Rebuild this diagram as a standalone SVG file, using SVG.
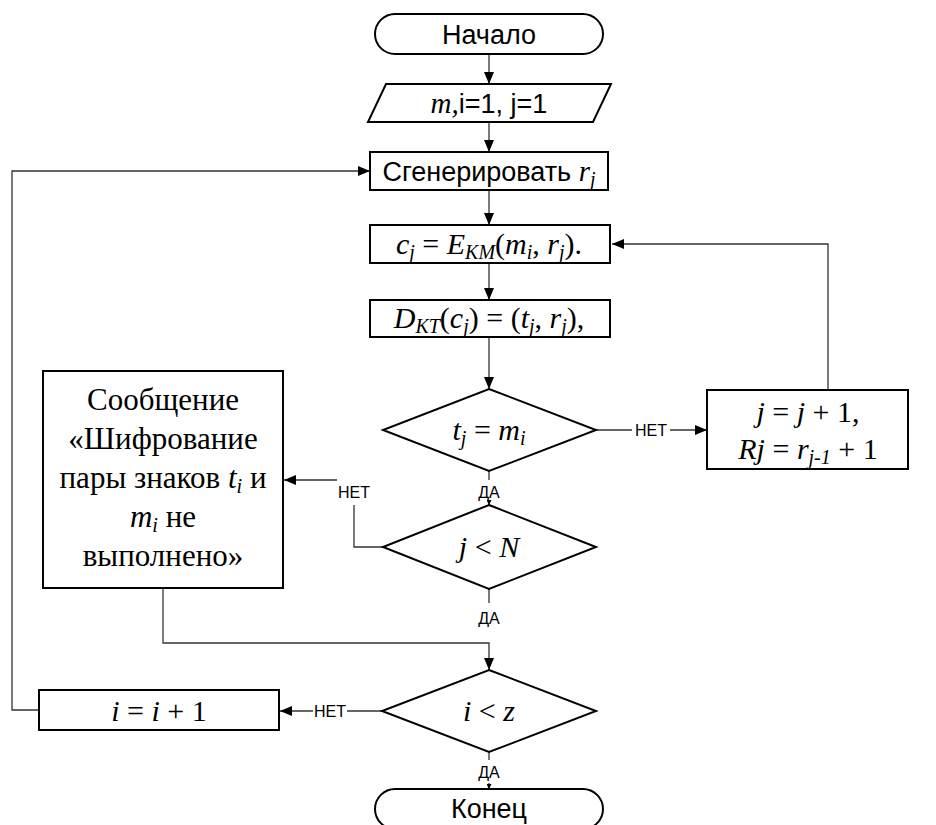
<svg xmlns="http://www.w3.org/2000/svg" width="936" height="825" viewBox="0 0 936 825">
<defs>
<marker id="ah" viewBox="0 0 12 10" refX="12" refY="5" markerWidth="12" markerHeight="10" markerUnits="userSpaceOnUse" orient="auto"><path d="M0,0 L12,5 L0,10 z" fill="#000"/></marker>
<marker id="as" viewBox="0 0 10 10" refX="10" refY="5" markerWidth="5" markerHeight="5" markerUnits="userSpaceOnUse" orient="auto"><path d="M0,0 L10,5 L0,10 z" fill="#000"/></marker>
</defs>
<style>
.s{fill:#fff;stroke:#000;stroke-width:2}
.c{fill:none;stroke:#333;stroke-width:1.3}
.sa{font-family:"Liberation Sans",Arial,sans-serif;font-size:27px;fill:#000;text-anchor:middle}
.m{font-family:"Liberation Serif","Times New Roman",serif;font-size:30px;fill:#000;text-anchor:middle}
.mt{font-family:"Liberation Serif","Times New Roman",serif;font-size:31px;fill:#000;text-anchor:middle}
.i{font-style:italic}
.sub{font-size:20px;font-style:italic}
.lb{font-family:"Liberation Sans",Arial,sans-serif;font-size:16px;fill:#000;text-anchor:middle}
</style>
<rect width="936" height="825" fill="#fff"/>
<g id="connectors">
<line class="c" x1="489" y1="54" x2="489" y2="84" marker-end="url(#ah)"/>
<line class="c" x1="489" y1="122" x2="489" y2="152" marker-end="url(#ah)"/>
<line class="c" x1="489" y1="190" x2="489" y2="225" marker-end="url(#ah)"/>
<line class="c" x1="489" y1="263" x2="489" y2="300" marker-end="url(#ah)"/>
<line class="c" x1="489" y1="337" x2="489" y2="389" marker-end="url(#ah)"/>
<line class="c" x1="596" y1="430" x2="632" y2="430"/>
<line class="c" x1="670" y1="430" x2="707" y2="430" marker-end="url(#ah)"/>
<text class="lb" x="651" y="436">НЕТ</text>
<polyline class="c" points="828,389 828,244 612,244" marker-end="url(#ah)"/>
<line class="c" x1="489" y1="471" x2="489" y2="480"/>
<text class="lb" x="489" y="498">ДА</text>
<line class="c" x1="489" y1="500" x2="489" y2="505" marker-end="url(#as)"/>
<polyline class="c" points="383,547 354,547 354,505"/>
<text class="lb" x="354" y="498">НЕТ</text>
<line class="c" x1="337" y1="480" x2="284" y2="480" marker-end="url(#ah)"/>
<line class="c" x1="489" y1="589" x2="489" y2="603"/>
<text class="lb" x="489" y="624">ДА</text>
<polyline class="c" points="163,588 163,643 489,643 489,670" marker-end="url(#ah)"/>
<line class="c" x1="382" y1="711" x2="347" y2="711"/>
<text class="lb" x="330" y="717">НЕТ</text>
<line class="c" x1="313" y1="711" x2="280" y2="711" marker-end="url(#ah)"/>
<polyline class="c" points="39,710 12,710 12,171 370,171" marker-end="url(#ah)"/>
<line class="c" x1="489" y1="752" x2="489" y2="760"/>
<text class="lb" x="489" y="778">ДА</text>
<line class="c" x1="489" y1="783" x2="489" y2="789" marker-end="url(#as)"/>
</g>
<g id="start">
<rect class="s" x="375" y="14" width="228" height="40" rx="20"/>
<text class="sa" x="489" y="44">Начало</text>
</g>
<g id="input">
<polygon class="s" points="386,84 611,84 593,122 368,122"/>
<text class="sa" x="489" y="113"><tspan font-family="Liberation Serif" font-style="italic" font-size="29">m,</tspan>i=1, j=1</text>
</g>
<g id="gen">
<rect class="s" x="370" y="152" width="238" height="38"/>
<text class="sa" x="489" y="181">Сгенерировать <tspan font-family="Liberation Serif" font-style="italic" font-size="29">r</tspan><tspan font-family="Liberation Serif" class="sub" baseline-shift="-5">j</tspan></text>
</g>
<g id="enc">
<rect class="s" x="370" y="225" width="240" height="38"/>
<text class="m" x="489" y="254"><tspan class="i">c</tspan><tspan class="sub" baseline-shift="-5">j</tspan> = <tspan class="i">E</tspan><tspan class="sub" baseline-shift="-5">KM</tspan>(<tspan class="i">m</tspan><tspan class="sub" baseline-shift="-5">i</tspan>, <tspan class="i">r</tspan><tspan class="sub" baseline-shift="-5">j</tspan>).</text>
</g>
<g id="dec">
<rect class="s" x="370" y="300" width="240" height="37"/>
<text class="m" x="489" y="328"><tspan class="i">D</tspan><tspan class="sub" baseline-shift="-5">KT</tspan>(<tspan class="i">c</tspan><tspan class="sub" baseline-shift="-5">j</tspan>) = (<tspan class="i">t</tspan><tspan class="sub" baseline-shift="-5">j</tspan>, <tspan class="i">r</tspan><tspan class="sub" baseline-shift="-5">j</tspan>),</text>
</g>
<g id="cond1">
<polygon class="s" points="489,389 596,430 489,471 383,430"/>
<text class="m" x="489" y="440" font-size="33"><tspan class="i">t</tspan><tspan class="sub" baseline-shift="-5">j</tspan> = <tspan class="i">m</tspan><tspan class="sub" baseline-shift="-5">i</tspan></text>
</g>
<g id="incj">
<rect class="s" x="707" y="390" width="201" height="79"/>
<text class="m" x="808" y="422"><tspan class="i">j</tspan> = <tspan class="i">j</tspan> + 1,</text>
<text class="m" x="808" y="459"><tspan class="i">Rj</tspan> =  <tspan class="i">r</tspan><tspan class="sub" baseline-shift="-5">j-1</tspan> + 1</text>
</g>
<g id="cond2">
<polygon class="s" points="489,505 596,547 489,589 383,547"/>
<text class="m" x="489" y="557" font-size="33"><tspan class="i">j</tspan> &lt; <tspan class="i">N</tspan></text>
</g>
<g id="msg">
<rect class="s" x="43" y="371" width="240" height="217"/>
<text class="mt" x="163" y="410">Сообщение</text>
<text class="mt" x="163" y="449">«Шифрование</text>
<text class="mt" x="163" y="488">пары знаков <tspan class="i">t</tspan><tspan class="sub" baseline-shift="-5">i</tspan> и</text>
<text class="mt" x="163" y="527"><tspan class="i">m</tspan><tspan class="sub" baseline-shift="-5">i</tspan> не</text>
<text class="mt" x="163" y="566">выполнено»</text>
</g>
<g id="cond3">
<polygon class="s" points="489,670 596,711 489,752 382,711"/>
<text class="m" x="489" y="721" font-size="33"><tspan class="i">i</tspan> &lt; <tspan class="i">z</tspan></text>
</g>
<g id="inci">
<rect class="s" x="39" y="690" width="240" height="40"/>
<text class="m" x="159" y="721" font-size="33"><tspan class="i">i</tspan> = <tspan class="i">i</tspan> + 1</text>
</g>
<g id="end">
<rect class="s" x="375" y="789" width="228" height="40" rx="20"/>
<text class="sa" x="489" y="818">Конец</text>
</g>
</svg>
